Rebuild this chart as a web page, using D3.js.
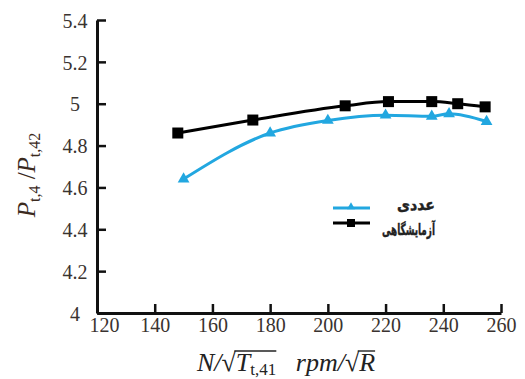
<!DOCTYPE html>
<html>
<head>
<meta charset="utf-8">
<script src="https://cdn.jsdelivr.net/npm/d3@7/dist/d3.min.js"></script>
<style>
  html, body { margin: 0; padding: 0; background: #fff; }
  svg { display: block; }
</style>
</head>
<body>
<svg id="chart" width="525" height="379"></svg>
<script>
// داده‌ها
const numX = [150, 180, 200, 220, 236, 242, 255];
const numY = [4.64, 4.86, 4.92, 4.945, 4.94, 4.952, 4.915];
const expX = [148, 174, 206, 221, 236, 245, 254.5];
const expY = [4.86, 4.922, 4.99, 5.01, 5.01, 5.0, 4.985];
const xTicks = [120, 140, 160, 180, 200, 220, 240, 260];
const yTicks = [4, 4.2, 4.4, 4.6, 4.8, 5, 5.2, 5.4];
const seriesNames = ['عددی', 'آزمایشگاهی'];

const blue = '#22a7e0';
const svg = d3.select('#chart');

const x = d3.scaleLinear().domain([120, 260]).range([97, 501]);
const y = d3.scaleLinear().domain([4, 5.4]).range([313, 20]);

const serif = 'Liberation Serif';

// محور y
const gy = svg.append('g')
  .attr('transform', `translate(${x(120)},0)`)
  .call(d3.axisLeft(y).tickValues(yTicks).tickSizeInner(-9).tickSizeOuter(0)
    .tickFormat(d => String(+d.toFixed(1))));
gy.attr('font-family', serif).attr('font-size', 20);
gy.select('.domain').attr('stroke', '#111').attr('stroke-width', 3);
gy.selectAll('.tick line').attr('stroke', '#111').attr('stroke-width', 2.5);
gy.selectAll('.tick text')
  .attr('x', -22).attr('dy', '0.36em').attr('text-anchor', 'middle').attr('fill', '#3a3330');

// محور x
const gx = svg.append('g')
  .attr('transform', `translate(0,${y(4)})`)
  .call(d3.axisBottom(x).tickValues(xTicks).tickSizeInner(-9).tickSizeOuter(0).tickPadding(5));
gx.attr('font-family', serif).attr('font-size', 20);
gx.select('.domain').attr('stroke', '#111').attr('stroke-width', 3);
gx.selectAll('.tick line').attr('stroke', '#111').attr('stroke-width', 2.5);
gx.selectAll('.tick text').attr('fill', '#3a3330');
gx.selectAll('.tick').filter(d => d === 120).select('text').attr('x', 7);

// خطوط
const line = d3.line().x(d => x(d[0])).y(d => y(d[1])).curve(d3.curveMonotoneX);
const numPts = numX.map((v, i) => [v, numY[i]]);
const expPts = expX.map((v, i) => [v, expY[i]]);

svg.append('path').datum(expPts).attr('d', line)
  .attr('fill', 'none').attr('stroke', '#000').attr('stroke-width', 3);
svg.append('path').datum(numPts).attr('d', line)
  .attr('fill', 'none').attr('stroke', blue).attr('stroke-width', 3);

const tri = d3.symbol().type(d3.symbolTriangle).size(60);
svg.append('g').selectAll('path').data(numPts).enter().append('path')
  .attr('d', tri)
  .attr('transform', d => `translate(${x(d[0])},${y(d[1])})`)
  .attr('fill', blue);

svg.append('g').selectAll('rect').data(expPts).enter().append('rect')
  .attr('x', d => x(d[0]) - 5.5).attr('y', d => y(d[1]) - 5.5)
  .attr('width', 11).attr('height', 11).attr('fill', '#000');

// راهنما
const legend = svg.append('g');
const lx0 = 333, lx1 = 370;
const legendW = [38, 53];
[[blue, 208, 'tri', 204], ['#000', 223, 'sq', 229]].forEach((s, i) => {
  legend.append('line').attr('x1', lx0).attr('x2', lx1).attr('y1', s[1]).attr('y2', s[1])
    .attr('stroke', s[0]).attr('stroke-width', 3);
  if (s[2] === 'tri') {
    legend.append('path').attr('d', d3.symbol().type(d3.symbolTriangle).size(28))
      .attr('transform', `translate(351,${s[1] - 1})`).attr('fill', s[0]);
  } else {
    legend.append('rect').attr('x', 347).attr('y', s[1] - 4).attr('width', 8).attr('height', 8)
      .attr('fill', s[0]);
  }
  const t = legend.append('text').attr('x', 0).attr('y', 0)
    .attr('text-anchor', 'end').attr('dominant-baseline', 'central')
    .attr('font-family', 'DejaVu Sans').attr('font-size', 14)
    .attr('font-weight', 'bold').attr('fill', '#222')
    .attr('stroke', '#222').attr('stroke-width', 0.4)
    .text(seriesNames[i]);
  const w = t.node().getComputedTextLength();
  t.attr('transform', `translate(435,${s[3]}) scale(${legendW[i] / w},1.1)`);
});

// عنوان محور y
const yt = svg.append('text')
  .attr('transform', 'translate(35,175) rotate(-90)')
  .attr('text-anchor', 'middle')
  .attr('font-family', serif).attr('font-size', 25).attr('fill', '#3b2a1e');
yt.append('tspan').attr('font-style', 'italic').text('P');
yt.append('tspan').attr('dy', 5).attr('font-size', 16).text('t,4');
yt.append('tspan').attr('dy', -5).text(' /');
yt.append('tspan').attr('font-style', 'italic').text('P');
yt.append('tspan').attr('dy', 5).attr('font-size', 16).text('t,42');

// عنوان محور x
const xt = svg.append('text')
  .attr('x', 197).attr('y', 371)
  .attr('font-family', serif).attr('font-size', 26).attr('fill', '#222');
xt.append('tspan').attr('font-style', 'italic').text('N/');
xt.append('tspan').text('√');
xt.append('tspan').attr('font-style', 'italic').text('T');
xt.append('tspan').attr('dy', 4).attr('font-size', 17).text('t,41');
xt.append('tspan').attr('dy', -4).text('\u00a0\u00a0\u00a0');
xt.append('tspan').attr('font-style', 'italic').text('rpm/');
xt.append('tspan').text('√');
xt.append('tspan').attr('font-style', 'italic').text('R');

// خط بالای رادیکال
const node = xt.node();
const full = node.textContent;
const iR1 = full.indexOf('√');
const iEnd1 = full.indexOf('1', iR1);
const iR2 = full.lastIndexOf('√');
const a = [node.getEndPositionOfChar(iR1).x, node.getEndPositionOfChar(iEnd1).x];
const b = [node.getEndPositionOfChar(iR2).x, node.getEndPositionOfChar(full.length - 1).x];
const barY = 371 - 20;
svg.append('line').attr('x1', a[0] - 1.5).attr('x2', a[1]).attr('y1', barY).attr('y2', barY)
  .attr('stroke', '#222').attr('stroke-width', 1.4);
svg.append('line').attr('x1', b[0] - 1.5).attr('x2', b[1]).attr('y1', barY).attr('y2', barY)
  .attr('stroke', '#222').attr('stroke-width', 1.4);
</script>
</body>
</html>
